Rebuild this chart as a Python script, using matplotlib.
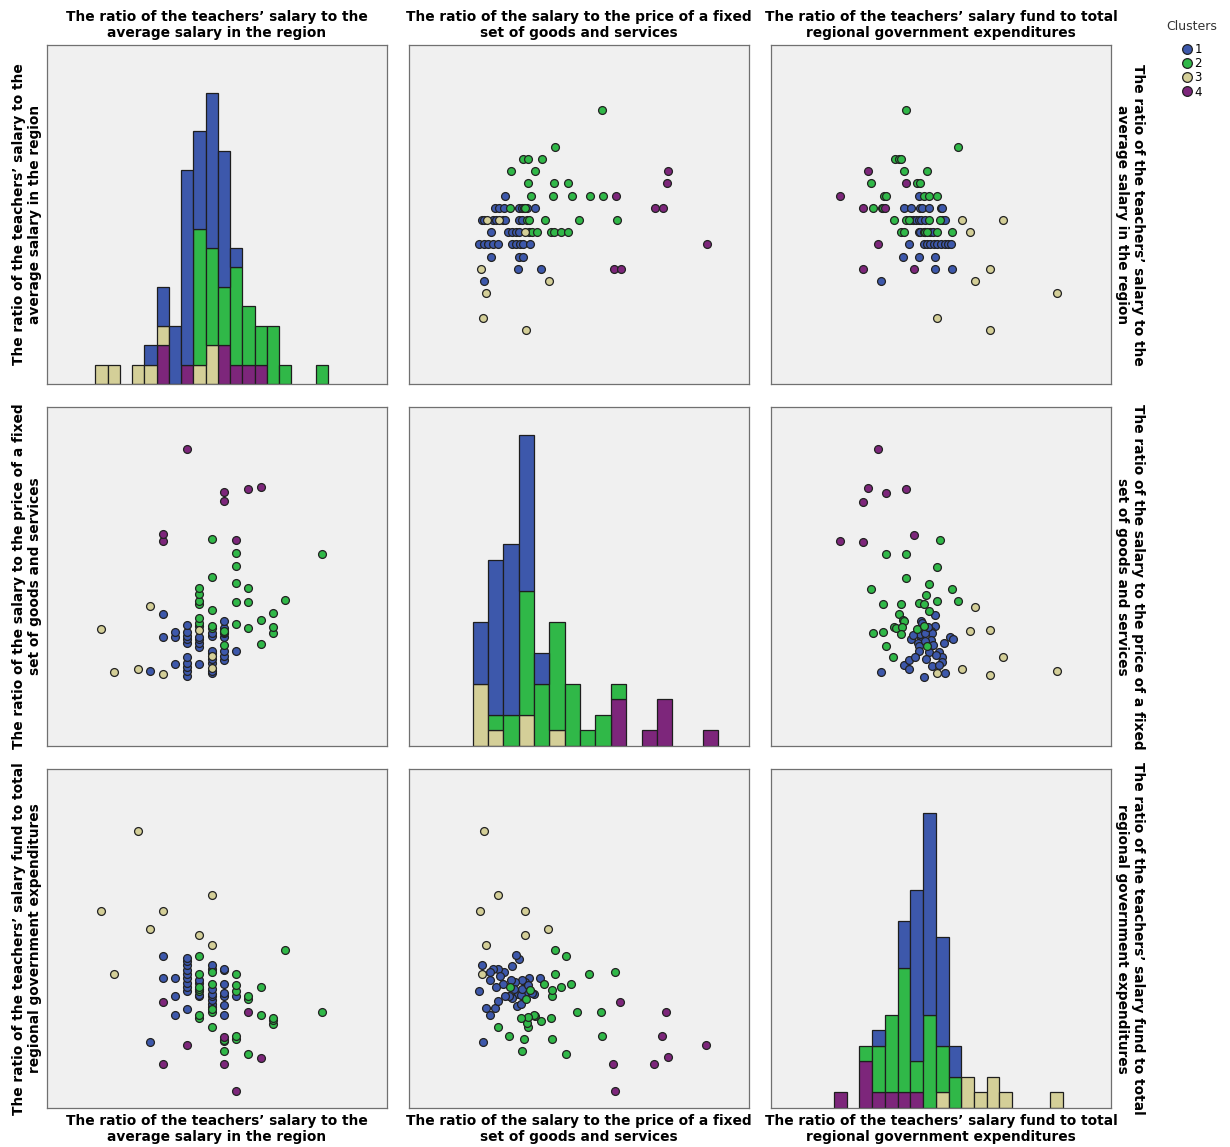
import numpy as np
import matplotlib
matplotlib.use("Agg")
import matplotlib.pyplot as plt
from matplotlib.lines import Line2D

######################################################
######################## DATA ########################
######################################################

# axis labels (SPSS splits them in two lines)
var_names = [
    "The ratio of the teachers\u2019 salary to the\naverage salary in the region",
    "The ratio of the salary to the price of a fixed\nset of goods and services",
    "The ratio of the teachers\u2019 salary fund to total\nregional government expenditures",
]
cluster_ids = [1, 2, 3, 4]
cluster_colors = {1: "#3d58ab", 2: "#30b848", 3: "#d4cf98", 4: "#7d267b"}

# no scale is printed on the chart: values are on a 0-100 scale of each axis

# panel A: salary/average salary (avg) vs salary/price of goods (price)
a_price = [56.7,
           43.0,
           33.4, 35.1, 39.2,
           30.0, 37.2, 76.3,
           34.9, 42.6, 46.7, 75.8,
           28.1, 35.9, 42.4, 48.0, 53.2, 57.0, 60.9,
           25.4, 26.6, 27.9, 32.3, 33.2, 34.7, 37.0, 29.8, 33.7, 34.0, 72.4, 74.8,
           21.6, 22.2, 24.6, 25.6, 27.5, 28.1, 32.4, 33.2, 22.9, 26.5, 34.8, 35.4, 40.1, 49.9, 61.1,
           24.2, 29.1, 30.3, 31.5, 32.3, 34.2, 35.4, 36.2, 37.7, 41.9, 42.7, 44.8, 46.7,
           20.6, 22.0, 23.2, 24.6, 26.2, 30.3, 31.5, 32.5, 33.6, 35.7, 87.6,
           24.2, 32.3, 33.6,
           21.2, 32.1, 38.8, 60.4, 62.4,
           22.1, 41.3,
           22.6,
           21.9,
           34.4]
a_avg = [80.8,
         70.0,
         66.4, 66.4, 66.4,
         62.8, 62.8, 62.8,
         59.2, 59.2, 59.2, 59.2,
         55.6, 55.6, 55.6, 55.6, 55.6, 55.6, 55.6,
         52.0, 52.0, 52.0, 52.0, 52.0, 52.0, 52.0, 52.0, 52.0, 52.0, 52.0, 52.0,
         48.4, 48.4, 48.4, 48.4, 48.4, 48.4, 48.4, 48.4, 48.4, 48.4, 48.4, 48.4, 48.4, 48.4, 48.4,
         44.8, 44.8, 44.8, 44.8, 44.8, 44.8, 44.8, 44.8, 44.8, 44.8, 44.8, 44.8, 44.8,
         41.2, 41.2, 41.2, 41.2, 41.2, 41.2, 41.2, 41.2, 41.2, 41.2, 41.2,
         37.6, 37.6, 37.6,
         34.0, 34.0, 34.0, 34.0, 34.0,
         30.4, 30.4,
         26.8,
         19.6,
         16.0]
a_clu = [2,
         2,
         2, 2, 2,
         2, 2, 4,
         2, 2, 2, 4,
         1, 2, 2, 2, 2, 2, 4,
         1, 1, 1, 1, 1, 1, 1, 2, 2, 2, 4, 4,
         1, 1, 1, 1, 1, 1, 1, 1, 3, 3, 2, 2, 2, 2, 2,
         1, 1, 1, 1, 1, 3, 2, 2, 2, 2, 2, 2, 2,
         1, 1, 1, 1, 1, 1, 1, 1, 1, 1, 4,
         1, 1, 1,
         3, 1, 1, 4, 4,
         1, 3,
         3,
         3,
         3]

# panel B: avg vs salary fund / total expenditures (fund)
b_fund = [39.7,
          54.9,
          36.6, 37.6, 38.3,
          28.4, 39.0, 45.9,
          29.3, 39.7, 42.8, 43.7,
          20.3, 33.1, 33.8, 43.5, 44.9, 46.4, 48.9,
          27.0, 33.6, 30.0, 32.5, 32.8, 39.0, 41.3, 43.7, 44.4, 46.6, 49.9, 50.3,
          36.1, 39.7, 40.5, 46.6, 49.6, 41.0, 41.7, 42.5, 43.5, 44.2, 45.4, 50.3, 51.1, 56.2, 68.3,
          38.1, 39.0, 44.9, 45.2, 45.9, 48.9, 53.3, 43.5, 43.9, 45.4, 46.9, 47.6, 58.5,
          31.5, 40.5, 44.9, 45.9, 46.9, 47.9, 48.9, 49.9, 51.1, 52.1, 52.8,
          38.9, 43.6, 48.1,
          27.0, 42.0, 48.1, 53.3, 64.5,
          32.3, 60.1,
          84.1,
          48.9,
          64.5]
b_avg = a_avg
b_clu = [2,
         2,
         2, 2, 2,
         4, 2, 2,
         2, 4, 2, 2,
         4, 2, 2, 1, 2, 2, 2,
         4, 4, 2, 2, 2, 1, 1, 1, 1, 1, 1, 1,
         2, 2, 2, 2, 2, 1, 1, 1, 1, 1, 1, 1, 1, 3, 3,
         2, 2, 2, 2, 2, 2, 2, 1, 1, 1, 1, 1, 3,
         4, 1, 1, 1, 1, 1, 1, 1, 1, 1, 1,
         1, 1, 1,
         4, 4, 1, 1, 3,
         1, 3,
         3,
         3,
         3]

# panel C: price vs fund
c_fund = [32.4, 39.0, 40.6, 40.7, 44.2, 41.2, 44.2, 43.2, 43.6, 43.5, 42.3, 44.5, 43.9,
          41.7, 44.4, 48.1, 48.1, 47.1, 47.4, 47.1, 46.5, 45.7, 47.4, 44.9, 45.4, 46.2,
          45.4, 47.6, 51.0, 49.5, 50.3, 50.2, 49.4, 51.1, 48.6, 52.6, 53.6,
          49.6, 33.7, 39.7, 48.9, 39.7, 29.3, 46.5, 53.3, 45.7, 33.0, 38.3, 43.6, 45.0,
          48.9, 54.9, 46.5, 37.5, 38.8, 39.0, 36.1, 36.9, 38.5, 38.3, 30.0, 33.0, 42.8,
          45.1, 45.9, 33.7, 36.0,
          60.1, 58.5, 64.5, 68.3, 56.2, 48.9, 64.5, 84.1,
          31.5, 28.5, 33.7, 39.7, 27.0, 20.3, 27.0, 42.0]
c_price = [21.9, 23.9, 22.7, 25.3, 36.8, 31.7, 32.1, 30.4, 29.4, 28.1, 26.2, 34.5, 33.0,
           32.8, 36.3, 38.5, 35.3, 34.0, 33.3, 31.3, 27.6, 25.6, 23.7, 20.5, 33.3, 35.0,
           30.9, 29.9, 30.4, 27.8, 26.2, 24.8, 23.8, 21.4, 26.7, 32.3, 31.5,
           60.7, 56.7, 56.5, 52.8, 49.5, 46.3, 47.7, 46.3, 44.6, 42.0, 41.8, 42.2, 42.0,
           42.8, 42.8, 39.8, 38.8, 37.1, 36.8, 35.1, 34.7, 35.1, 33.0, 33.2, 33.7, 34.5,
           35.5, 29.6, 29.4, 26.3,
           40.9, 34.0, 34.1, 26.2, 22.6, 21.5, 20.9, 22.2,
           87.5, 76.2, 74.5, 75.7, 72.1, 60.5, 60.1, 62.2]
c_clu = [1, 1, 1, 1, 1, 1, 1, 1, 1, 1, 1, 1, 1,
         1, 1, 1, 1, 1, 1, 1, 1, 1, 1, 1, 1, 1,
         1, 1, 1, 1, 1, 1, 1, 1, 1, 1, 1,
         2, 2, 2, 2, 2, 2, 2, 2, 2, 2, 2, 2, 2,
         2, 2, 2, 2, 2, 2, 2, 2, 2, 2, 2, 2, 2,
         2, 2, 2, 2,
         3, 3, 3, 3, 3, 3, 3, 3,
         4, 4, 4, 4, 4, 4, 4, 4]

# histogram counts per bin and cluster (diagonal panels)
avg_bin_start, avg_bin_width = 14.26, 3.602
avg_counts = {
    1: [0, 0, 0, 0, 1, 2, 3, 10, 5, 8, 7, 1, 0, 0, 0, 0, 0, 0, 0],
    2: [0, 0, 0, 0, 0, 0, 0, 0, 7, 5, 3, 5, 3, 2, 3, 1, 0, 0, 1],
    3: [1, 1, 0, 1, 1, 1, 0, 0, 1, 2, 0, 0, 0, 0, 0, 0, 0, 0, 0],
    4: [0, 0, 0, 0, 0, 2, 0, 1, 0, 0, 2, 1, 1, 1, 0, 0, 0, 0, 0],
}
price_bin_start, price_bin_width = 18.68, 4.52
price_counts = {
    1: [4, 10, 11, 10, 2, 0, 0, 0, 0, 0, 0, 0, 0, 0, 0, 0],
    2: [0, 1, 2, 8, 4, 7, 4, 1, 2, 1, 0, 0, 0, 0, 0, 0],
    3: [4, 1, 0, 2, 0, 1, 0, 0, 0, 0, 0, 0, 0, 0, 0, 0],
    4: [0, 0, 0, 0, 0, 0, 0, 0, 0, 3, 0, 1, 3, 0, 0, 1],
}
fund_bin_start, fund_bin_width = 18.49, 3.747
fund_counts = {
    1: [0, 0, 0, 1, 0, 3, 11, 13, 7, 2, 0, 0, 0, 0, 0, 0, 0, 0],
    2: [0, 0, 1, 3, 5, 8, 2, 6, 3, 2, 0, 0, 0, 0, 0, 0, 0, 0],
    3: [0, 0, 0, 0, 0, 0, 0, 0, 1, 0, 2, 1, 2, 1, 0, 0, 0, 1],
    4: [1, 0, 3, 1, 1, 1, 1, 0, 0, 0, 0, 0, 0, 0, 0, 0, 0, 0],
}

######################################################
####################### PLOT #########################
######################################################

W, H = 1230, 1147
fig = plt.figure(figsize=(W / 100, H / 100), dpi=100)
fig.patch.set_facecolor("white")

col_left = [47, 409, 771]
row_top = [45, 407, 769]
pw, ph = 340, 339

axes = [[None] * 3 for _ in range(3)]
for r in range(3):
    for c in range(3):
        ax = fig.add_axes([col_left[c] / W, 1 - (row_top[r] + ph) / H, pw / W, ph / H])
        ax.set_facecolor("#f0f0f0")
        ax.set_xticks([])
        ax.set_yticks([])
        for s in ax.spines.values():
            s.set_color("#707070")
            s.set_linewidth(0.9)
        ax.set_xlim(0, 100)
        ax.set_ylim(0, 100)
        axes[r][c] = ax

# the fund axis is scaled differently when it is on the vertical side
fund_ylim = (16.1, 99.3)


def scatter(ax, x, y, clu):
    x, y, clu = np.asarray(x), np.asarray(y), np.asarray(clu)
    for k in cluster_ids:
        m = clu == k
        ax.scatter(x[m], y[m], s=32, c=cluster_colors[k], edgecolors="#222222",
                   linewidths=0.9, zorder=2 + k)


def stacked_hist(ax, start, width, counts, ymax):
    n = len(counts[1])
    left = start + width * np.arange(n)
    bottom = np.zeros(n)
    for k in [4, 3, 2, 1]:
        h = np.asarray(counts[k], dtype=float)
        m = h > 0
        ax.bar(left[m], h[m], width, bottom=bottom[m], align="edge",
               color=cluster_colors[k], edgecolor="#1e1e1e", linewidth=0.9, zorder=2)
        bottom += h
    ax.set_ylim(0, ymax)


stacked_hist(axes[0][0], avg_bin_start, avg_bin_width, avg_counts, 17.45)
stacked_hist(axes[1][1], price_bin_start, price_bin_width, price_counts, 21.83)
stacked_hist(axes[2][2], fund_bin_start, fund_bin_width, fund_counts, 21.8)

scatter(axes[0][1], a_price, a_avg, a_clu)
scatter(axes[1][0], a_avg, a_price, a_clu)
scatter(axes[0][2], b_fund, b_avg, b_clu)
scatter(axes[2][0], b_avg, b_fund, b_clu)
scatter(axes[1][2], c_fund, c_price, c_clu)
scatter(axes[2][1], c_price, c_fund, c_clu)
axes[2][0].set_ylim(*fund_ylim)
axes[2][1].set_ylim(*fund_ylim)

# variable names round the matrix
fs = 9.9
for i in range(3):
    cx = (col_left[i] + pw / 2) / W
    cy = 1 - (row_top[i] + ph / 2) / H
    fig.text(cx, 1 - 25 / H, var_names[i], ha="center", va="center",
             fontsize=fs, fontweight="bold", linespacing=1.15)
    fig.text(cx, 1 - 1129 / H, var_names[i], ha="center", va="center",
             fontsize=fs, fontweight="bold", linespacing=1.15)
    fig.text(27 / W, cy, var_names[i], ha="center", va="center", rotation=90,
             fontsize=fs, fontweight="bold", linespacing=1.15)
    fig.text(1130 / W, cy, var_names[i], ha="center", va="center", rotation=270,
             fontsize=fs, fontweight="bold", linespacing=1.15)

# legend
fig.text(1192 / W, 1 - 27 / H, "Clusters", ha="center", va="center",
         fontsize=9, color="#333333")
handles = [Line2D([], [], linestyle="none", marker="o", markersize=7,
                  markerfacecolor=cluster_colors[k], markeredgecolor="#222222",
                  markeredgewidth=0.9) for k in cluster_ids]
fig.legend(handles, [str(k) for k in cluster_ids],
           loc="upper left", bbox_to_anchor=(1179 / W, 1 - 43 / H),
           frameon=False, fontsize=8.5, handletextpad=0.0, labelspacing=0.1,
           handlelength=1.3, borderpad=0, borderaxespad=0)

fig.savefig("out.png", dpi=100)
